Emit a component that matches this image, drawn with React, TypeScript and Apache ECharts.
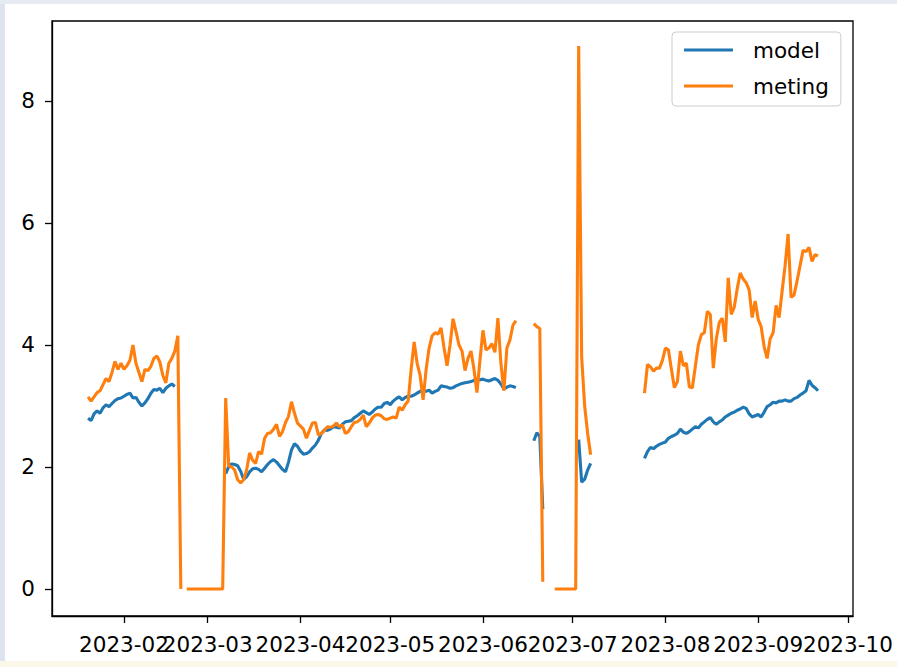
import React, { useEffect, useRef } from "react";
import * as echarts from "echarts";

const DAY = 86400000;
const utc = (s: string): number => {
  const [y, m, d] = s.split("-").map(Number);
  return Date.UTC(y, m - 1, d);
};

// ---- data (daily values, null = missing) ----
const FIRST_DAY = "2023-01-20";
const LAST_DAY = "2023-09-21";

const janFebStart = "2023-01-20";
const modelJanFeb = [2.8, 2.76, 2.87, 2.92, 2.88, 2.97, 3.02, 2.99, 3.04, 3.09, 3.12, 3.13, 3.16, 3.19, 3.21, 3.13, 3.14, 3.06, 3.0, 3.05, 3.12, 3.21, 3.27, 3.26, 3.29, 3.22, 3.29, 3.33, 3.36, 3.32];
const metingJanFeb = [3.15, 3.08, 3.15, 3.22, 3.25, 3.35, 3.45, 3.4, 3.55, 3.73, 3.6, 3.7, 3.6, 3.66, 3.75, 4.0, 3.7, 3.55, 3.4, 3.6, 3.58, 3.65, 3.78, 3.82, 3.72, 3.5, 3.38, 3.7, 3.78, 3.9, 4.15];

const zeroFebStart = "2023-02-20";
const metingZeroFeb = [0, null, 0, 0, 0, 0, 0, 0, 0, 0, 0, 0, 0, 0, 0];

const marJunStart = "2023-03-07";
const modelMarJun = [1.89, 2.0, 2.05, 2.04, 2.02, 1.93, 1.8, 1.84, 1.92, 1.97, 1.98, 1.96, 1.92, 1.98, 2.04, 2.09, 2.12, 2.08, 2.02, 1.96, 1.92, 2.08, 2.28, 2.38, 2.34, 2.26, 2.21, 2.22, 2.25, 2.31, 2.36, 2.44, 2.55, 2.61, 2.6, 2.62, 2.66, 2.65, 2.64, 2.7, 2.74, 2.75, 2.76, 2.81, 2.84, 2.88, 2.92, 2.89,
  2.86, 2.9, 2.95, 2.98, 2.98, 3.04, 3.06, 3.02, 3.08, 3.12, 3.15, 3.1, 3.14, 3.16, 3.16, 3.18, 3.21, 3.24, 3.26, 3.24, 3.26, 3.21, 3.24, 3.26, 3.33, 3.32, 3.31, 3.29, 3.3, 3.33, 3.35, 3.37, 3.38, 3.39, 3.4, 3.42, 3.43, 3.43, 3.44, 3.42, 3.41, 3.43, 3.45, 3.42, 3.36, 3.28, 3.31, 3.33, 3.32, 3.3];
const metingMarJun = [3.13, 2.02, 2.0, 1.95, 1.79, 1.74, 1.79, 1.95, 2.23, 2.11, 2.06, 2.25, 2.21, 2.47, 2.55, 2.56, 2.62, 2.7, 2.5, 2.58, 2.73, 2.83, 3.07, 2.88, 2.72, 2.67, 2.62, 2.47, 2.6, 2.72, 2.73, 2.52, 2.55, 2.6, 2.66, 2.65, 2.67, 2.72, 2.66, 2.69, 2.55, 2.58, 2.66, 2.73, 2.74, 2.78, 2.85, 2.66,
  2.72, 2.8, 2.85, 2.86, 2.84, 2.79, 2.78, 2.8, 2.82, 2.8, 2.98, 2.93, 3.02, 3.08, 3.6, 4.05, 3.7, 3.5, 3.1, 3.6, 3.95, 4.15, 4.2, 4.18, 4.28, 3.95, 3.66, 4.0, 4.43, 4.22, 4.0, 3.9, 3.58, 3.78, 3.9, 3.6, 3.22, 3.75, 4.24, 3.92, 3.95, 4.02, 3.88, 4.44, 3.7, 3.25, 3.95, 4.08, 4.32, 4.4];

const junStart = "2023-06-18";
const modelJun = [2.43, 2.56, 2.5, 1.31];
const metingJun = [4.35, 4.3, 4.27, 0.12];

const zeroJunStart = "2023-06-22";
const metingZeroJun = [null, null, null, 0, 0, 0, 0, 0, 0, 0, 0];

const julStart = "2023-07-03";
const modelJul = [2.45, 1.75, 1.8, 1.95, 2.06];
const metingJul = [8.9, 3.8, 3.0, 2.55, 2.2];

const julSepStart = "2023-07-25";
const modelJulSep = [2.14, 2.25, 2.32, 2.3, 2.34, 2.37, 2.39, 2.41, 2.47, 2.5, 2.52, 2.55, 2.62, 2.57, 2.55, 2.58, 2.62, 2.66, 2.64, 2.7, 2.74, 2.78, 2.81, 2.74, 2.7, 2.74, 2.77, 2.82, 2.85, 2.88, 2.9, 2.93, 2.95, 2.98, 2.96, 2.87, 2.82, 2.84, 2.86, 2.82, 2.9, 2.99, 3.02, 3.06, 3.05, 3.08, 3.08, 3.1, 3.08, 3.08, 3.12, 3.14, 3.18, 3.21, 3.25, 3.42, 3.34, 3.3, 3.25];
const metingJulSep = [3.21, 3.68, 3.64, 3.57, 3.62, 3.62, 3.75, 3.95, 3.92, 3.6, 3.3, 3.4, 3.9, 3.66, 3.7, 3.31, 3.3, 3.65, 4.0, 4.17, 4.2, 4.55, 4.5, 3.62, 4.1, 4.37, 4.44, 4.05, 5.1, 4.5, 4.62, 4.92, 5.18, 5.08, 5.02, 4.9, 4.45, 4.72, 4.42, 4.3, 3.97, 3.78, 4.1, 4.2, 4.65, 4.45, 4.88, 5.3, 5.82, 4.78, 4.82, 5.05, 5.3, 5.55, 5.53, 5.6, 5.37, 5.48, 5.46];

const monthTicks = ["2023-02-01", "2023-03-01", "2023-04-01", "2023-05-01", "2023-06-01", "2023-07-01", "2023-08-01", "2023-09-01", "2023-10-01"];
const yTicks = [0, 2, 4, 6, 8];
const seriesNames = ["model", "meting"];

// ---- builders ----
type Seg = [string, (number | null)[]];
function buildSeries(segs: Seg[]) {
  const map = new Map<number, number | null>();
  segs.forEach(([start, vals]) => {
    const t0 = utc(start);
    vals.forEach((v, i) => map.set(t0 + i * DAY, v));
  });
  const out: [number, number | string][] = [];
  for (let t = utc(FIRST_DAY); t <= utc(LAST_DAY); t += DAY) {
    const v = map.get(t);
    out.push([t, v === undefined || v === null ? "-" : v]);
  }
  return out;
}

const modelData = buildSeries([
  [janFebStart, modelJanFeb],
  [marJunStart, modelMarJun],
  [junStart, modelJun],
  [julStart, modelJul],
  [julSepStart, modelJulSep],
]);
const metingData = buildSeries([
  [janFebStart, metingJanFeb],
  [zeroFebStart, metingZeroFeb],
  [marJunStart, metingMarJun],
  [junStart, metingJun],
  [zeroJunStart, metingZeroJun],
  [julStart, metingJul],
  [julSepStart, metingJulSep],
]);

const fmtMonth = (v: number) => {
  const d = new Date(v);
  return `${d.getUTCFullYear()}-${String(d.getUTCMonth() + 1).padStart(2, "0")}`;
};

const FONT = "DejaVu Sans";
const BLUE = "#1f77b4";
const ORANGE = "#ff7f0e";

export default function App() {
  const ref = useRef<HTMLDivElement>(null);
  useEffect(() => {
    if (!ref.current) return;
    const chart = echarts.init(ref.current, null, { renderer: "svg" });
    const feb1 = utc("2023-02-01");
    const xMin = feb1 - 24.06 * DAY;
    const xMax = feb1 + 243.7 * DAY;
    const allTicks = monthTicks.map(utc);
    // labels overlap slightly (as in the reference), so split over two coincident axes
    const ticksA = allTicks.filter((_, i) => i % 2 === 0);
    const ticksB = allTicks.filter((_, i) => i % 2 === 1);
    const makeX = (ticks: number[], showLine: boolean) => ({
      type: "value",
      position: "bottom",
      min: xMin,
      max: xMax,
      splitLine: { show: false },
      axisLine: { show: showLine, onZero: false, lineStyle: { color: "#000", width: 1.3 } },
      axisTick: { show: true, inside: false, length: 7, lineStyle: { color: "#000", width: 1.3 }, customValues: ticks },
      axisLabel: {
        customValues: ticks,
        formatter: (v: number) => fmtMonth(v),
        fontFamily: FONT,
        fontSize: 21.5,
        color: "#000",
        margin: 17,
        hideOverlap: false,
        showMinLabel: true,
        showMaxLabel: true,
      },
    });
    chart.setOption({
      animation: false,
      backgroundColor: "#ffffff",
      graphic: [
        { type: "rect", shape: { x: 0, y: 0, width: 5, height: 667 }, style: { fill: "#dde4ef" }, silent: true, z: -10 },
        { type: "rect", shape: { x: 0, y: 0, width: 897, height: 4 }, style: { fill: "#e6ebf3" }, silent: true, z: -10 },
        { type: "rect", shape: { x: 0, y: 661, width: 897, height: 6 }, style: { fill: "#fbf8e9" }, silent: true, z: -10 },
      ],
      grid: {
        left: 52,
        top: 21,
        right: 44,
        bottom: 51,
        show: true,
        borderColor: "#000",
        borderWidth: 1.3,
        backgroundColor: "#fff",
        outerBoundsMode: "none",
      },
      legend: {
        data: seriesNames.map((n) => ({ name: n, icon: "rect" })),
        orient: "vertical",
        left: 672,
        top: 32,
        padding: [7, 12, 9, 12],
        itemGap: 14,
        itemWidth: 49,
        itemHeight: 3,
        backgroundColor: "rgba(255,255,255,0.8)",
        borderColor: "#cccccc",
        borderWidth: 1,
        borderRadius: 4,
        textStyle: { fontFamily: FONT, fontSize: 21.5, color: "#000", padding: [0, 0, 0, 15] },
      },
      xAxis: [makeX(ticksA, true), makeX(ticksB, false)],
      yAxis: {
        type: "value",
        min: -0.443,
        max: 9.311,
        splitLine: { show: false },
        axisLine: { show: true, lineStyle: { color: "#000", width: 1.3 } },
        axisTick: { show: true, inside: false, length: 7, lineStyle: { color: "#000", width: 1.3 }, customValues: yTicks },
        axisLabel: {
          customValues: yTicks,
          fontFamily: FONT,
          fontSize: 21.5,
          color: "#000",
          margin: 17,
        },
      },
      series: [
        {
          name: seriesNames[0],
          type: "line",
          xAxisIndex: 0,
          data: modelData,
          symbol: "none",
          connectNulls: false,
          color: BLUE,
          lineStyle: { width: 3.1, color: BLUE },
        },
        {
          name: seriesNames[1],
          type: "line",
          xAxisIndex: 0,
          data: metingData,
          symbol: "none",
          connectNulls: false,
          color: ORANGE,
          lineStyle: { width: 3.1, color: ORANGE },
        },
      ],
    });
    return () => chart.dispose();
  }, []);
  return <div ref={ref} style={{ position: "fixed", left: 0, top: 0, width: 897, height: 667 }} />;
}
